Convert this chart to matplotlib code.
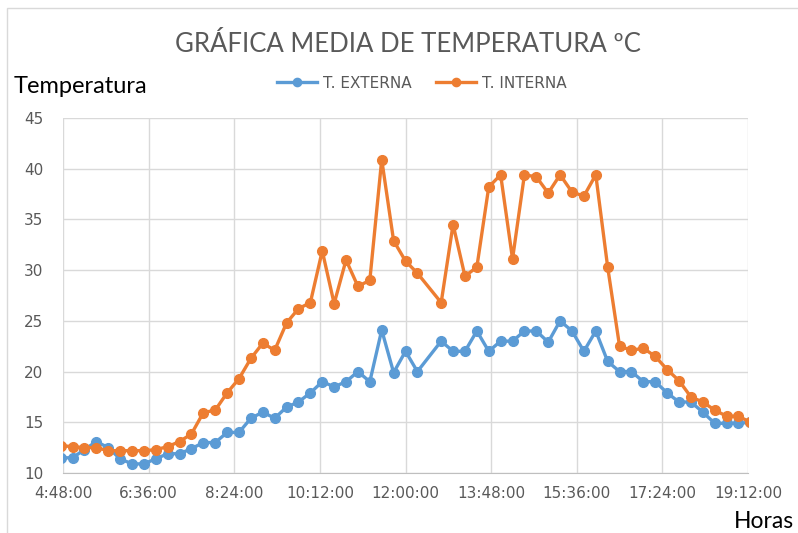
import matplotlib
matplotlib.use("Agg")
import matplotlib.pyplot as plt
from matplotlib.patches import Rectangle

times = ["4:45", "5:00", "5:15", "5:30", "5:45", "6:00", "6:15", "6:30", "6:45", "7:00",
         "7:15", "7:30", "7:45", "8:00", "8:15", "8:30", "8:45", "9:00", "9:15", "9:30",
         "9:45", "10:00", "10:15", "10:30", "10:45", "11:00", "11:15", "11:30", "11:45", "12:00",
         "12:15", "12:45", "13:00", "13:15", "13:30", "13:45", "14:00", "14:15", "14:30", "14:45",
         "15:00", "15:15", "15:30", "15:45", "16:00", "16:15", "16:30", "16:45", "17:00", "17:15",
         "17:30", "17:45", "18:00", "18:15", "18:30", "18:45", "19:00", "19:15"]

t_externa = [11.5, 11.5, 12.3, 13.1, 12.5, 11.4, 10.9, 10.9, 11.4, 11.9,
             11.9, 12.4, 13.0, 13.0, 14.0, 14.0, 15.4, 16.0, 15.4, 16.5,
             17.0, 17.9, 19.0, 18.5, 19.0, 20.0, 19.0, 24.1, 19.9, 22.0,
             20.0, 23.0, 22.0, 22.0, 24.0, 22.0, 23.0, 23.0, 24.0, 24.0,
             22.9, 25.0, 24.0, 22.0, 24.0, 21.0, 20.0, 20.0, 19.0, 19.0,
             17.9, 17.0, 17.0, 16.0, 14.9, 14.9, 14.9, 15.0]

t_interna = [12.7, 12.6, 12.5, 12.5, 12.2, 12.2, 12.2, 12.2, 12.3, 12.6,
             13.1, 13.85, 15.95, 16.2, 17.9, 19.3, 21.3, 22.8, 22.1, 24.8,
             26.2, 26.8, 31.9, 26.7, 31.0, 28.4, 29.0, 40.9, 32.9, 30.9,
             29.7, 26.8, 34.5, 29.4, 30.3, 38.2, 39.4, 31.1, 39.4, 39.2,
             37.6, 39.4, 37.7, 37.3, 39.4, 30.3, 22.5, 22.1, 22.3, 21.5,
             20.2, 19.1, 17.5, 17.0, 16.2, 15.6, 15.6, 15.0]

x_tick_labels = ["4:48:00", "6:36:00", "8:24:00", "10:12:00", "12:00:00",
                 "13:48:00", "15:36:00", "17:24:00", "19:12:00"]
y_ticks = [10, 15, 20, 25, 30, 35, 40, 45]


def to_hours(s):
    h, m = s.split(":")[:2]
    return int(h) + int(m) / 60.0


x = [to_hours(t) for t in times]
xt = [to_hours(t) for t in x_tick_labels]

W, H = 798, 533
fig = plt.figure(figsize=(W / 100, H / 100), dpi=100)
fig.patch.set_facecolor("white")

# chart area border (partially cropped)
fig.add_artist(Rectangle((7 / W, -0.1), 1.2, 1 - 8 / H + 0.1, transform=fig.transFigure,
                         fill=False, edgecolor="#d9d9d9", linewidth=1.0))

ax = fig.add_axes([63 / W, 1 - 473 / H, (748 - 63) / W, (473 - 118) / H])
ax.set_xlim(xt[0], xt[-1])
ax.set_ylim(10, 45)

blue = "#5B9BD5"
orange = "#ED7D31"
ax.plot(x, t_externa, color=blue, lw=2.4, marker="o", ms=7, label="T. EXTERNA", zorder=3)
ax.plot(x, t_interna, color=orange, lw=2.4, marker="o", ms=7, label="T. INTERNA", zorder=4)

ax.set_xticks(xt)
ax.set_xticklabels(x_tick_labels)
ax.set_yticks(y_ticks)
ax.grid(True, color="#d9d9d9", linewidth=1.0, zorder=0)
ax.set_axisbelow(True)
for side in ["top", "right", "left"]:
    ax.spines[side].set_visible(False)
ax.spines["bottom"].set_color("#bfbfbf")
ax.tick_params(axis="both", length=0, colors="#595959", labelsize=11)
ax.tick_params(axis="x", pad=9)
ax.tick_params(axis="y", pad=14)

fig.text(408 / W, 1 - 45 / H, "GRÁFICA MEDIA DE TEMPERATURA ºC", ha="center", va="center",
         fontsize=18.5, color="#595959", family="Lato")
fig.text(14 / W, 1 - 87 / H, "Temperatura", ha="left", va="center", fontsize=17,
         color="black", family="Lato")
fig.text(794 / W, 1 - 521 / H, "Horas", ha="right", va="center", fontsize=16.5,
         color="black", family="Lato")

leg = ax.legend(loc="center", bbox_to_anchor=(422 / W, 1 - 83 / H), bbox_transform=fig.transFigure,
                ncol=2, frameon=False, fontsize=11, handlelength=2.6, columnspacing=1.6,
                handletextpad=0.4, markerscale=0.85)
for t in leg.get_texts():
    t.set_color("#595959")

fig.savefig("out.png", dpi=100)
